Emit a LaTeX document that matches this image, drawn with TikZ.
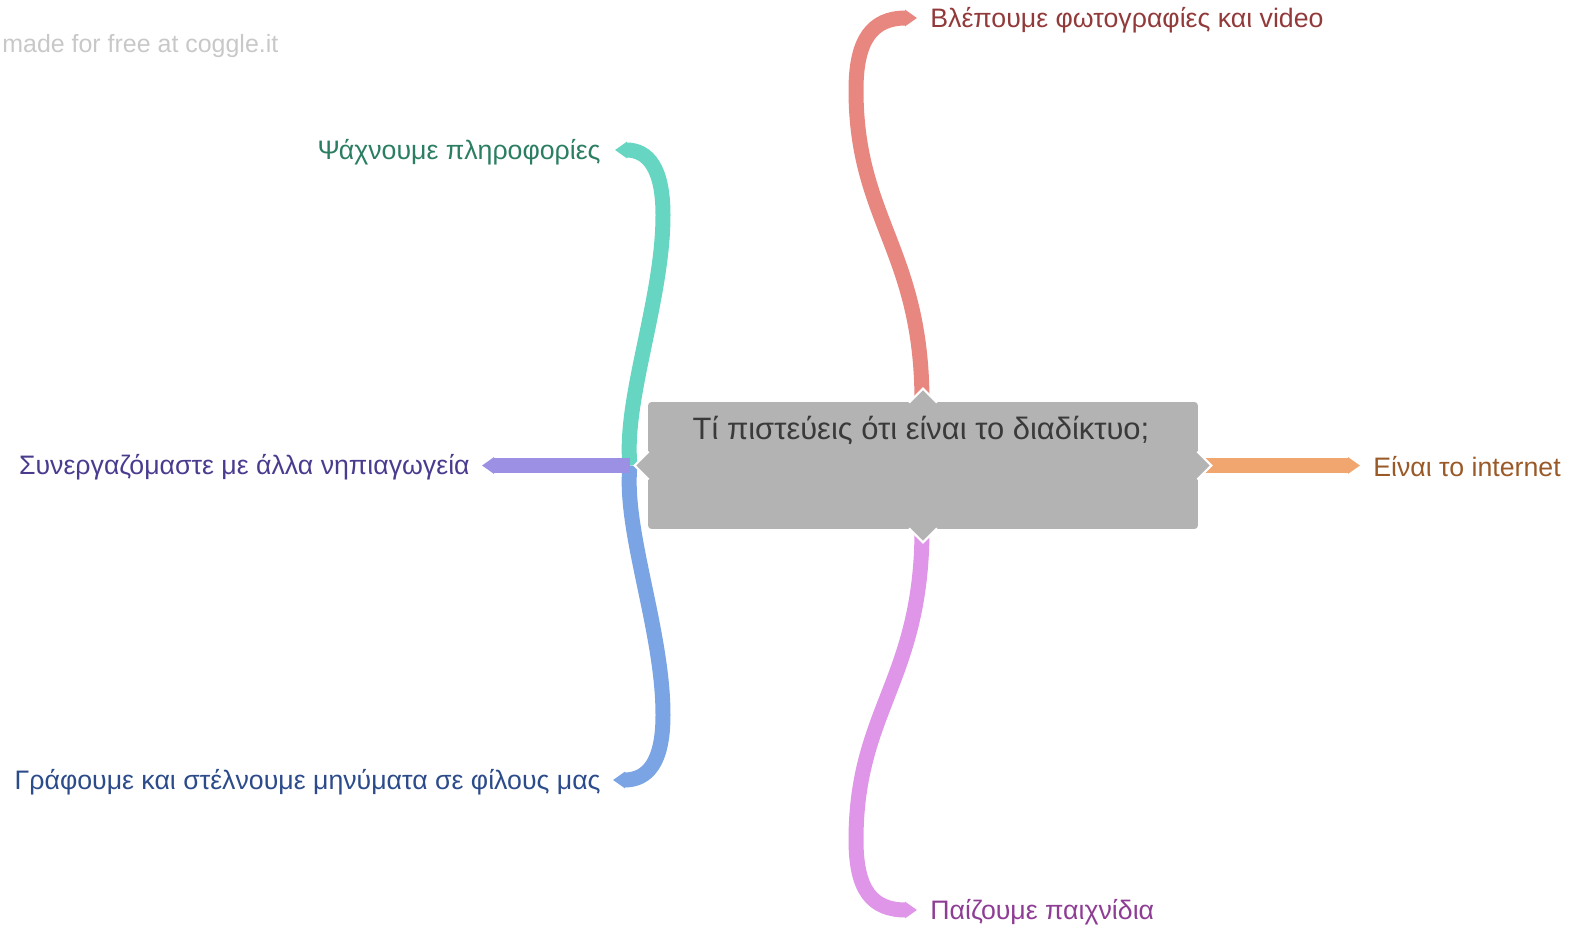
\documentclass[tikz,border=0pt]{standalone}
\usepackage{fontspec}
\setmainfont{Liberation Sans}
\usetikzlibrary{
    arrows.meta,
    calc,
    positioning
}
\definecolor{rootgray}{RGB}{179,179,179}
\definecolor{rootink}{RGB}{58,58,58}
\definecolor{markgray}{RGB}{200,200,200}
\definecolor{redbranch}{RGB}{232,135,127}
\definecolor{redink}{RGB}{146,58,58}
\definecolor{pinkbranch}{RGB}{224,150,232}
\definecolor{pinkink}{RGB}{142,61,148}
\definecolor{tealbranch}{RGB}{102,214,194}
\definecolor{tealink}{RGB}{43,125,99}
\definecolor{bluebranch}{RGB}{123,164,228}
\definecolor{blueink}{RGB}{44,75,138}
\definecolor{purplebranch}{RGB}{155,144,228}
\definecolor{purpleink}{RGB}{75,59,143}
\definecolor{orangebranch}{RGB}{240,166,110}
\definecolor{orangeink}{RGB}{154,90,40}
\tikzset{
    line join=round,
    rootbox/.style={
        rectangle,
        fill=rootgray,
        rounded corners=2pt,
        minimum width=11cm,
        minimum height=2.54cm,
        inner sep=0pt
    },
    roottext/.style={
        font=\fontsize{17.6}{21}\selectfont,
        text=rootink,
        inner sep=0pt
    },
    branch/.style={
        line width=0.3cm,
        line cap=butt,
        -{Triangle[length=0.24cm, width=0.32cm]}
    },
    leaf/.style={
        font=\fontsize{15.2}{18}\selectfont,
        inner sep=0pt
    },
    notch/.style={fill=rootgray},
    notchedge/.style={draw=white, line width=1.2pt},
    watermark/.style={
        font=\fontsize{14.2}{17}\selectfont,
        text=markgray,
        inner sep=0pt
    }
}

\begin{document}
\begin{tikzpicture}[x=0.02cm, y=-0.02cm]
\useasboundingbox (0,0) rectangle (1573,929);

% Watermark
\node[watermark, anchor=west] (mark) at (2,46) {made for free at coggle.it};

% Leaves
\node[leaf, anchor=west, text=redink] (photos) at (930,20) {Βλέπουμε φωτογραφίες και video};
\node[leaf, anchor=east, text=tealink] (search) at (601,152) {Ψάχνουμε πληροφορίες};
\node[leaf, anchor=east, text=purpleink] (schools) at (470,467) {Συνεργαζόμαστε με άλλα νηπιαγωγεία};
\node[leaf, anchor=east, text=blueink] (messages) at (601,782) {Γράφουμε και στέλνουμε μηνύματα σε φίλους μας};
\node[leaf, anchor=west, text=orangeink] (internet) at (1373,467) {Είναι το internet};
\node[leaf, anchor=west, text=pinkink] (games) at (930,912) {Παίζουμε παιχνίδια};

% Anchors of the central idea
\coordinate (rootn) at (922,402);
\coordinate (roots) at (922,529);
\coordinate (rootw) at (648,465.5);
\coordinate (roote) at (1198,465.5);
\coordinate (hub) at (630,465.5);

% Tips of the branches
\coordinate (photostip) at ($(photos.west)+(-13,-2)$);
\coordinate (searchtip) at ($(search.east)+(14,-2)$);
\coordinate (schoolstip) at ($(hub -| schools.east)+(12,0)$);
\coordinate (messagestip) at ($(messages.east)+(12,-2)$);
\coordinate (internettip) at ($(roote -| internet.west)+(-13,0)$);
\coordinate (gamestip) at ($(games.west)+(-13,-2)$);

% Branches
\draw[branch, redbranch] (rootn)
    .. controls (922,250) and (856,220) .. (856,90)
    .. controls (856,40) and (872,18) .. (photostip);
\draw[branch, pinkbranch] (roots)
    .. controls (922,680) and (856,710) .. (856,840)
    .. controls (856,890) and (872,910) .. (gamestip);
\draw[branch, tealbranch] (hub)
    .. controls (623,400) and (663,300) .. (663,215)
    .. controls (663,168) and (648,150) .. (searchtip);
\draw[branch, bluebranch] (hub)
    .. controls (623,530) and (663,630) .. (663,715)
    .. controls (663,762) and (648,780) .. (messagestip);
\draw[branch, purplebranch] (hub) -- (schoolstip);
\draw[branch, orangebranch] (roote) -- (internettip);

% Central idea
\node[rootbox] (root) at ($(rootw)!0.5!(roote)$) {};
\node[roottext] (rootlbl) at (921,431) {Τί πιστεύεις ότι είναι το διαδίκτυο;};

% Notches round the box
\fill[notch] ($(root.north)+(-14,1)$) -- ($(root.north)+(0,-13)$) -- ($(root.north)+(14,1)$) -- cycle;
\draw[notchedge] ($(root.north)+(-14,1)$) -- ($(root.north)+(0,-13)$) -- ($(root.north)+(14,1)$);
\fill[notch] ($(root.south)+(-14,-1)$) -- ($(root.south)+(0,13)$) -- ($(root.south)+(14,-1)$) -- cycle;
\draw[notchedge] ($(root.south)+(-14,-1)$) -- ($(root.south)+(0,13)$) -- ($(root.south)+(14,-1)$);
\fill[notch] ($(root.west)+(1,-14)$) -- ($(root.west)+(-13,0)$) -- ($(root.west)+(1,14)$) -- cycle;
\draw[notchedge] ($(root.west)+(1,-14)$) -- ($(root.west)+(-13,0)$) -- ($(root.west)+(1,14)$);
\fill[notch] ($(root.east)+(-1,-14)$) -- ($(root.east)+(13,0)$) -- ($(root.east)+(-1,14)$) -- cycle;
\draw[notchedge] ($(root.east)+(-1,-14)$) -- ($(root.east)+(13,0)$) -- ($(root.east)+(-1,14)$);
\end{tikzpicture}
\end{document}
